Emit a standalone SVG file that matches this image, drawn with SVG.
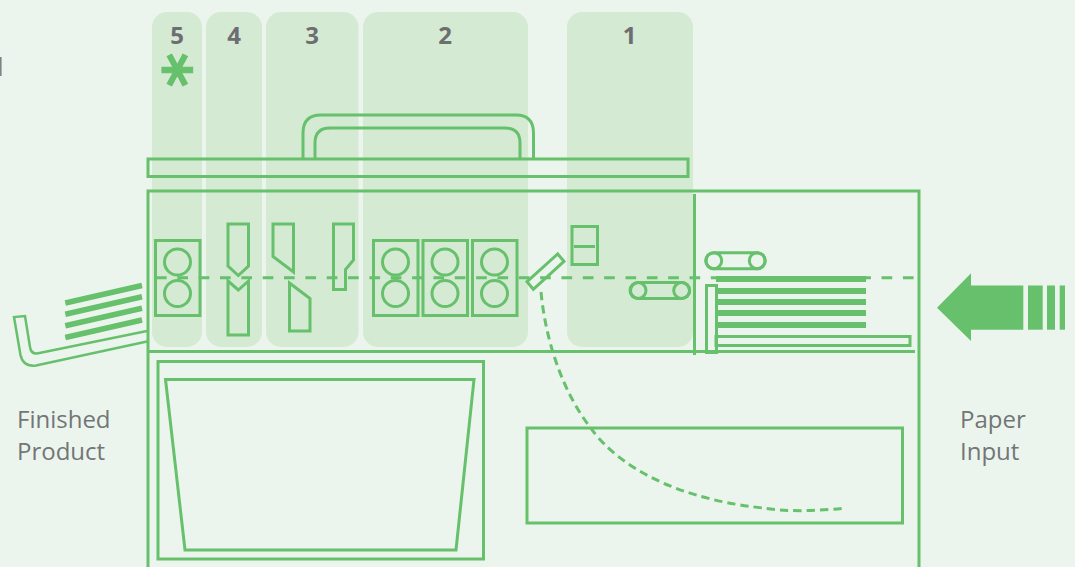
<svg xmlns="http://www.w3.org/2000/svg" width="1075" height="567" viewBox="0 0 1075 567">
<style>
.p{fill:#d5ead3}
.s{fill:none;stroke:#66c06c;stroke-width:3}
.f{fill:#66c06c}
.d{fill:none;stroke:#66c06c;stroke-width:3;stroke-dasharray:10.67 10.67}
.c{fill:none;stroke:#66c06c;stroke-width:3;stroke-dasharray:8.300 5}
.n{font-family:"Open Sans","Liberation Sans",sans-serif;font-weight:700;font-size:24px;fill:#6d6e71;text-anchor:middle}
.l{font-family:"Open Sans","Liberation Sans",sans-serif;font-size:24px;fill:#737577}
</style>
<rect width="1075" height="567" fill="#ecf5ed"/>
<rect x="0" y="57" width="1.6" height="19" fill="#808285"/>
<g id="stage-5"><rect class="p" x="152" y="12" width="50" height="335" rx="15"/><text class="n" x="177" y="44">5</text><text x="0" y="10.500" transform="translate(177 70) rotate(90)" text-anchor="middle" dominant-baseline="central" font-family="DejaVu Sans" font-weight="700" font-size="66" fill="#66c06c" stroke="#66c06c" stroke-width="1">*</text></g>
<g id="stage-4"><rect class="p" x="206" y="12" width="56" height="335" rx="15"/><text class="n" x="234" y="44">4</text></g>
<g id="stage-3"><rect class="p" x="266" y="12" width="92.500" height="335" rx="15"/><text class="n" x="312" y="44">3</text></g>
<g id="stage-2"><rect class="p" x="363" y="12" width="165" height="335" rx="15"/><text class="n" x="445" y="44">2</text></g>
<g id="stage-1"><rect class="p" x="567" y="12" width="126" height="335" rx="15"/><text class="n" x="629.500" y="44">1</text></g>
<g id="connectors">
<path class="d" d="M156 277.700H916"/>
<path class="c" d="M541 292C546 345 565 395 590 427C610 456 660 497 763 508C785 512 820 511 846 508"/>
</g>
<g id="upper-path"><path class="s" d="M303 159V133Q303 115 321 115H516Q533.500 115 533.500 133V159"/><path class="s" d="M315 159V143Q315 128 330 128H505Q520 128 520 143V159"/><rect class="s" x="148" y="159" width="540" height="17.500"/></g>
<g id="machine"><path class="s" d="M148 567V191H919V567"/><path class="s" d="M148 351.500H915"/><path class="s" d="M694.500 194V355"/></g>
<g id="roller-5"><rect class="s" x="155.500" y="240.500" width="44.500" height="75"/><circle class="s" cx="177.500" cy="262" r="13"/><circle class="s" cx="177.500" cy="293.500" r="13"/></g>
<g id="blades-4"><path class="s" d="M228 224H248.500V266L238.300 275.500L228 266Z"/><path class="s" d="M228 281L238.300 290L248.500 281V335H228Z"/></g>
<g id="blades-3"><path class="s" d="M273 224H293.500V272L273 256.500Z"/><path class="s" d="M289.500 283L310 298.500V331H289.500Z"/><path class="s" d="M333.500 224H353.500V260L345.500 269.500V289.500H333.500Z"/></g>
<g id="roller-2a"><rect class="s" x="373.500" y="240.500" width="44.500" height="75"/><circle class="s" cx="395.500" cy="262" r="13"/><circle class="s" cx="395.500" cy="293.500" r="13"/></g>
<g id="roller-2b"><rect class="s" x="423" y="240.500" width="44.500" height="75"/><circle class="s" cx="445" cy="262" r="13"/><circle class="s" cx="445" cy="293.500" r="13"/></g>
<g id="roller-2c"><rect class="s" x="472.500" y="240.500" width="44.500" height="75"/><circle class="s" cx="494.500" cy="262" r="13"/><circle class="s" cx="494.500" cy="293.500" r="13"/></g>
<g id="deflector"><path class="s" d="M557.700 254L564 261.300L533.300 289.300L527 281.700Z"/></g>
<g id="sensor"><rect class="s" x="572" y="226.500" width="25.500" height="38"/><path class="s" d="M574 246.500H595"/></g>
<g id="conveyor-lower"><rect class="s" x="630.500" y="282.500" width="59" height="16" rx="8"/><circle class="s" cx="638" cy="290.500" r="8"/><circle class="s" cx="681.700" cy="290.500" r="8"/></g>
<g id="conveyor-upper"><rect class="s" x="706" y="252.700" width="59" height="16" rx="8"/><circle class="s" cx="713.700" cy="260.700" r="8"/><circle class="s" cx="757.300" cy="260.700" r="8"/></g>
<g id="paper-stack"><rect class="f" x="716" y="276" width="150" height="6"/><rect class="f" x="716" y="288" width="150" height="6"/><rect class="f" x="716" y="299" width="150" height="6"/><rect class="f" x="716" y="310" width="150" height="6"/><rect class="f" x="716" y="322" width="150" height="6"/><rect class="s" x="716" y="336.500" width="194" height="9"/><rect class="s" x="706.500" y="285.500" width="10" height="67"/></g>
<g id="input-arrow"><path class="f" d="M937 307.700L971 273.300V285.500H1023.300V329.700H971V341Z"/><rect class="f" x="1028" y="285.500" width="14.700" height="44.200"/><rect class="f" x="1047" y="285.500" width="8" height="44.200"/><rect class="f" x="1059.700" y="285.500" width="5.300" height="44.200"/></g>
<g id="output-tray"><path d="M65.300 303L142 285.500M65.300 314.300L142 296.800M65.300 325.700L142 308.200M65.300 337.500L142 320" fill="none" stroke="#66c06c" stroke-width="5.500"/><path fill="none" stroke="#66c06c" stroke-width="2.500" d="M147 331L37 353.500Q31 354 30 347L25 316L14 317L20.500 355Q23 367 36 365.500L147 341.500"/></g>
<g id="cabinet-left"><rect class="s" x="158" y="361.500" width="325.500" height="197.500"/><path class="s" d="M165.500 379.500H474L456 550H185Z"/></g>
<g id="cabinet-right"><rect class="s" x="527" y="428" width="375.500" height="95"/></g>
<g id="label-output"><text class="l" x="17" y="428">Finished</text><text class="l" x="17" y="460">Product</text></g>
<g id="label-input"><text class="l" x="960" y="428">Paper</text><text class="l" x="960" y="460">Input</text></g>
</svg>
